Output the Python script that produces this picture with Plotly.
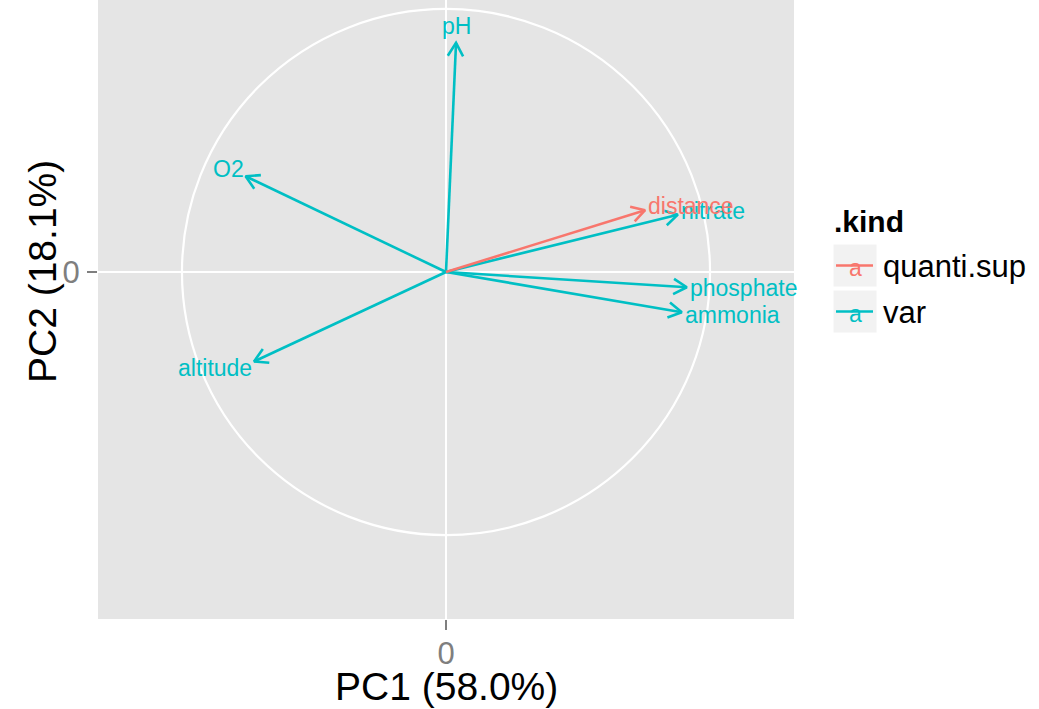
import math
import plotly.graph_objects as go

# ---------------- data ----------------
VAR_NAMES = ["pH", "O2", "altitude", "nitrate", "phosphate", "ammonia"]
VAR_PC1 = [0.038, -0.759, -0.727, 0.878, 0.912, 0.893]
VAR_PC2 = [0.871, 0.364, -0.340, 0.218, -0.058, -0.153]

SUP_NAMES = ["distance"]
SUP_PC1 = [0.754]
SUP_PC2 = [0.235]

KINDS = ["quanti.sup", "var"]
KIND_COLORS = ["#F8766D", "#00BFC4"]
LEGEND_TITLE = ".kind"
X_TITLE = "PC1 (58.0%)"
Y_TITLE = "PC2 (18.1%)"
TICK_VALS = [0]
TICK_TEXT = ["0"]

# ---------------- layout constants ----------------
W, H = 1039, 709
ML, MR, MT, MB = 98, 245, 0, 90
PW = W - ML - MR
PH = H - MT - MB
XR = [-1.318, 1.318]
YR = [-1.319, 1.034]
FONT = "Liberation Sans, Arial, Helvetica, sans-serif"
GREY50 = "#7F7F7F"


def px_to_paper_x(px):
    return (px - ML) / PW


def px_to_paper_y(py):
    return (MT + PH - py) / PH


HEAD_LEN = 0.058
HEAD_ANG = math.radians(30)


def arrow_paths(xs, ys):
    px, py = [], []
    for x, y in zip(xs, ys):
        px += [0, x, None]
        py += [0, y, None]
        th = math.atan2(y, x)
        w1 = (x - HEAD_LEN * math.cos(th + HEAD_ANG), y - HEAD_LEN * math.sin(th + HEAD_ANG))
        w2 = (x - HEAD_LEN * math.cos(th - HEAD_ANG), y - HEAD_LEN * math.sin(th - HEAD_ANG))
        px += [w1[0], x, w2[0], None]
        py += [w1[1], y, w2[1], None]
    return px, py


fig = go.Figure()

groups = [
    ("var", VAR_NAMES, VAR_PC1, VAR_PC2, KIND_COLORS[1]),
    ("quanti.sup", SUP_NAMES, SUP_PC1, SUP_PC2, KIND_COLORS[0]),
]

annotations = []
for kind, names, xs, ys, col in groups:
    ax, ay = arrow_paths(xs, ys)
    fig.add_trace(go.Scatter(x=ax, y=ay, mode="lines",
                             line=dict(color=col, width=2.6),
                             hoverinfo="skip", showlegend=False))
for kind, names, xs, ys, col in groups:
    for n, x, y in zip(names, xs, ys):
        if x > 0.2:
            xa, xsh = "left", 1
        elif x < -0.2:
            xa, xsh = "right", 0
        else:
            xa, xsh = "center", 0
        annotations.append(dict(x=x, y=y, xref="x", yref="y", text=n,
                                showarrow=False, xanchor=xa, yanchor="middle",
                                xshift=xsh, yshift=19 * y,
                                font=dict(family=FONT, size=23, color=col)))

# axis titles
annotations.append(dict(x=0.5, y=px_to_paper_y(686), xref="paper", yref="paper",
                        text=X_TITLE, showarrow=False, xanchor="center", yanchor="middle",
                        font=dict(family=FONT, size=39, color="black")))
annotations.append(dict(x=px_to_paper_x(42), y=0, xref="paper", yref="y",
                        text=Y_TITLE, showarrow=False, xanchor="center", yanchor="middle",
                        textangle=-90,
                        font=dict(family=FONT, size=39, color="black")))

# manual legend (ggplot style)
shapes = [dict(type="circle", xref="x", yref="y", x0=-1, x1=1, y0=-1, y1=1,
               line=dict(color="white", width=2.2), layer="below")]
annotations.append(dict(x=px_to_paper_x(832), y=px_to_paper_y(222), xref="paper", yref="paper",
                        text="<b>%s</b>" % LEGEND_TITLE, showarrow=False,
                        xanchor="left", yanchor="middle",
                        font=dict(family=FONT, size=30, color="black")))
key_top = 244
key_h = 43
key_gap = 3
for i, (kind, col) in enumerate(zip(KINDS, KIND_COLORS)):
    y0 = key_top + i * (key_h + key_gap)
    y1 = y0 + key_h
    shapes.append(dict(type="rect", xref="paper", yref="paper",
                       x0=px_to_paper_x(833), x1=px_to_paper_x(877),
                       y0=px_to_paper_y(y1), y1=px_to_paper_y(y0),
                       fillcolor="#F2F2F2", line=dict(color="white", width=1)))
    ym = (y0 + y1) / 2
    shapes.append(dict(type="line", xref="paper", yref="paper",
                       x0=px_to_paper_x(836), x1=px_to_paper_x(873),
                       y0=px_to_paper_y(ym), y1=px_to_paper_y(ym),
                       line=dict(color=col, width=2.6)))
    annotations.append(dict(x=px_to_paper_x(855), y=px_to_paper_y(ym + 2), xref="paper", yref="paper",
                            text="a", showarrow=False, xanchor="center", yanchor="middle",
                            font=dict(family=FONT, size=23, color=col)))
    annotations.append(dict(x=px_to_paper_x(881), y=px_to_paper_y(ym + 1), xref="paper", yref="paper",
                            text=kind, showarrow=False, xanchor="left", yanchor="middle",
                            font=dict(family=FONT, size=31, color="black")))

axis_common = dict(showgrid=True, gridcolor="white", gridwidth=2.2, zeroline=False,
                   showline=False, tickmode="array", tickvals=TICK_VALS, ticktext=TICK_TEXT,
                   ticks="outside", ticklen=10, tickwidth=2.2, tickcolor=GREY50,
                   tickfont=dict(family=FONT, size=31, color=GREY50), fixedrange=True)

fig.update_layout(
    width=W, height=H,
    margin=dict(l=ML, r=MR, t=MT, b=MB, pad=0),
    paper_bgcolor="white", plot_bgcolor="#E5E5E5",
    xaxis=dict(range=XR, ticklabelstandoff=-3, **axis_common),
    yaxis=dict(range=YR, ticklabelstandoff=1, **axis_common),
    shapes=shapes, annotations=annotations, showlegend=False,
    font=dict(family=FONT),
)

fig.write_html("out.html", config={"displayModeBar": False},
               post_script="document.body.style.margin='0';document.body.style.overflow='hidden';")
